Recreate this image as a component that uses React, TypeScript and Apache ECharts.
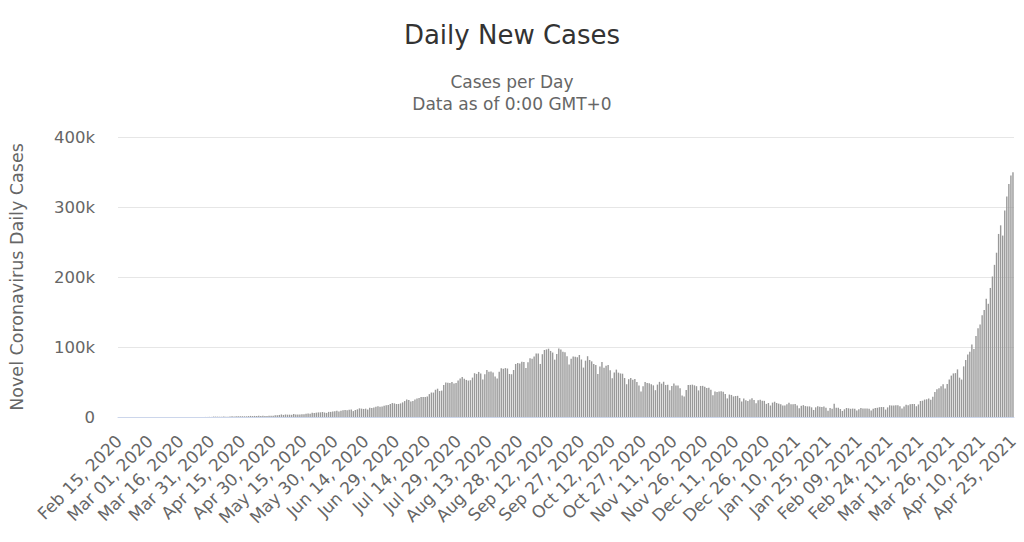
import React, { useEffect, useRef } from "react";
import * as echarts from "echarts";

// Daily new cases, one array per month (first day of each array given in SEGMENTS)
const feb2020 = [0, 0, 0, 0, 0, 0, 0, 0, 0, 0, 0, 0, 0, 0, 0];
const mar2020 = [0, 2, 1, 22, 2, 1, 3, 5, 4, 18, 6, 11, 9, 20, 11, 6, 23, 14, 38, 50, 86, 66, 103, 37, 121, 70, 160, 100, 73, 227, 146];
const apr2020 = [601, 545, 478, 525, 505, 704, 508, 485, 591, 896, 768, 918, 1092, 1138, 1090, 1033, 991, 1288, 1579, 1336, 1537, 1297, 1667, 1408, 1835, 1607, 1561, 1902, 1705, 1801];
const may2020 = [2396, 2564, 2952, 3656, 2971, 3602, 3344, 3339, 3175, 4311, 3592, 3562, 3726, 3991, 3808, 4794, 5049, 4628, 6147, 5553, 6198, 6568, 6629, 7111, 6414, 5843, 7293, 7300, 7964, 8336, 8789];
const jun2020 = [7723, 8821, 9633, 9889, 9471, 10438, 10864, 8442, 9985, 10956, 12375, 11929, 11502, 11929, 10667, 13103, 12881, 13586, 14516, 15413, 14821, 14933, 15968, 16922, 17296, 18552, 19906, 19459, 18522, 18653];
const jul2020 = [19428, 20903, 22771, 24850, 24248, 22252, 22752, 24879, 26506, 27114, 28637, 28701, 28498, 29429, 32695, 34956, 34884, 38902, 40425, 37148, 37724, 45720, 49310, 48916, 48661, 49931, 47703, 48513, 52123, 55079, 57118];
const aug2020 = [54735, 52972, 52050, 52509, 56282, 62538, 61537, 64399, 62064, 53601, 60963, 66999, 64553, 65002, 63490, 57981, 55079, 64531, 69652, 68898, 69878, 69239, 61408, 60975, 67151, 75760, 77266, 76472, 78761, 78512, 69921];
const sep2020 = [78357, 83883, 83341, 86432, 90632, 90802, 75809, 89706, 95735, 96551, 97570, 94372, 92071, 81911, 90123, 97894, 96424, 93337, 92605, 86961, 75083, 83347, 86508, 86052, 85362, 88600, 82170, 70589, 80472, 86821];
const oct2020 = [81484, 79476, 75829, 74442, 61267, 72049, 78524, 70496, 73272, 74383, 66732, 55342, 63509, 67708, 63371, 62212, 61871, 55722, 46790, 54044, 55839, 53370, 54366, 50129, 45149, 36469, 43893, 49881, 48648, 48268, 46963];
const nov2020 = [45231, 38310, 46253, 50210, 47638, 50357, 45674, 45903, 38073, 44281, 47905, 44879, 44878, 41100, 30548, 29164, 38617, 45576, 45882, 46232, 45209, 44059, 37975, 44376, 44489, 43082, 41322, 41810, 38772, 31118];
const dec2020 = [36604, 35551, 36594, 36652, 36011, 32981, 26567, 32080, 31521, 29398, 30006, 30254, 27071, 22065, 26382, 24010, 22890, 25153, 26624, 24337, 19556, 23950, 24712, 23067, 23068, 18732, 20021, 16432, 20550, 21822, 20035];
const jan2021 = [19078, 18177, 16504, 16375, 18088, 20346, 18139, 18222, 18645, 16311, 12584, 15968, 16946, 15590, 15158, 15144, 13788, 10064, 13823, 15223, 14545, 14256, 14849, 13203, 9102, 12689, 11666, 18855, 13083, 13052, 11427];
const feb2021 = [8635, 11039, 12899, 12408, 11713, 12059, 11831, 9110, 11067, 12923, 12143, 12194, 12143, 11649, 9121, 11610, 12881, 13193, 13993, 14264, 14199, 10584, 13742, 16738, 16577, 16488, 16752, 16620];
const mar2021 = [15510, 12286, 14989, 17407, 16838, 18327, 18711, 18599, 15388, 17921, 22854, 23285, 24882, 25320, 26291, 24492, 28903, 35871, 39726, 40953, 43846, 46951, 40715, 47262, 53476, 59118, 62258, 62714, 68020, 56211, 53480];
const apr2021 = [72330, 81466, 89129, 93249, 103558, 96982, 115736, 126789, 131968, 145384, 152879, 168912, 161736, 184372, 200739, 217353, 234692, 261500, 273810, 259170, 295041, 314835, 332730, 345147, 349691];

// [year, monthIndex, firstDay, values]
const SEGMENTS: [number, number, number, number[]][] = [
  [2020, 1, 15, feb2020], [2020, 2, 1, mar2020], [2020, 3, 1, apr2020], [2020, 4, 1, may2020],
  [2020, 5, 1, jun2020], [2020, 6, 1, jul2020], [2020, 7, 1, aug2020], [2020, 8, 1, sep2020],
  [2020, 9, 1, oct2020], [2020, 10, 1, nov2020], [2020, 11, 1, dec2020], [2021, 0, 1, jan2021],
  [2021, 1, 1, feb2021], [2021, 2, 1, mar2021], [2021, 3, 1, apr2021],
];

const MONTHS = ["Jan", "Feb", "Mar", "Apr", "May", "Jun", "Jul", "Aug", "Sep", "Oct", "Nov", "Dec"];
const START = Date.UTC(2020, 1, 15);
const END = Date.UTC(2021, 3, 25);
const DAY = 86400000;

const Y_TICKS = [0, 100000, 200000, 300000, 400000];

function fmt(t: number) {
  const d = new Date(t);
  const dd = String(d.getUTCDate()).padStart(2, "0");
  return `${MONTHS[d.getUTCMonth()]} ${dd}, ${d.getUTCFullYear()}`;
}

function buildData() {
  const byDate = new Map<number, number>();
  SEGMENTS.forEach(([y, m, d, vals]) => {
    vals.forEach((v, i) => byDate.set(Date.UTC(y, m, d + i), v));
  });
  const cats: string[] = [];
  const vals: number[] = [];
  for (let t = START; t <= END; t += DAY) {
    cats.push(fmt(t));
    vals.push(byDate.get(t) ?? 0);
  }
  return { cats, vals };
}

const FONT = "DejaVu Sans";

export default function App() {
  const ref = useRef<HTMLDivElement>(null);
  useEffect(() => {
    if (!ref.current) return;
    const chart = echarts.init(ref.current, undefined, { renderer: "svg" });
    const { cats, vals } = buildData();
    chart.setOption({
      animation: false,
      backgroundColor: "#ffffff",
      title: {
        text: "Daily New Cases",
        subtext: "Cases per Day\nData as of 0:00 GMT+0",
        left: "center",
        top: 17,
        itemGap: 23,
        textStyle: { fontFamily: FONT, fontSize: 26, fontWeight: "normal", color: "#333333" },
        subtextStyle: { fontFamily: FONT, fontSize: 17, color: "#666666", lineHeight: 22 },
      },
      grid: { left: 103, right: 10, top: 137, bottom: 125, containLabel: false },
      xAxis: {
        type: "category",
        data: cats,
        boundaryGap: true,
        axisLine: { lineStyle: { color: "#ccd6eb", width: 1 } },
        axisTick: { show: false },
        axisLabel: {
          interval: 14,
          rotate: 45,
          margin: 21,
          color: "#666666",
          fontFamily: FONT,
          fontSize: 17,
        },
      },
      yAxis: {
        type: "value",
        min: Y_TICKS[0],
        max: Y_TICKS[Y_TICKS.length - 1],
        interval: 100000,
        name: "Novel Coronavirus Daily Cases",
        nameLocation: "middle",
        nameGap: 92,
        nameTextStyle: { fontFamily: FONT, fontSize: 17.5, color: "#666666" },
        axisLine: { show: false },
        axisTick: { show: false },
        splitLine: { lineStyle: { color: "#e6e6e6" } },
        axisLabel: {
          margin: 23,
          color: "#666666",
          fontFamily: FONT,
          fontSize: 16.5,
          formatter: (v: number) => (v === 0 ? "0" : `${v / 1000}k`),
        },
      },
      series: [
        {
          type: "bar",
          data: vals,
          barWidth: 1.4,
          itemStyle: { color: "#999999" },
        },
      ],
    });
    return () => chart.dispose();
  }, []);
  return (
    <div
      ref={ref}
      style={{ position: "fixed", left: 0, top: 0, width: 1024, height: 542, background: "#fff" }}
    />
  );
}
